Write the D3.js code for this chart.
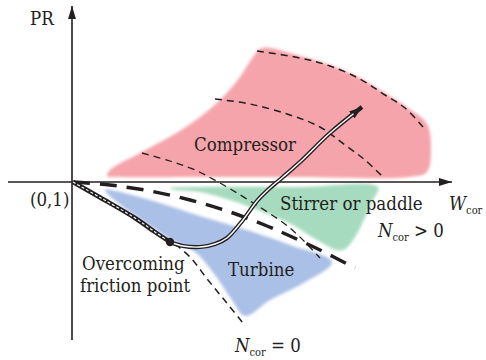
<!DOCTYPE html>
<html><head><meta charset="utf-8">
<script src="https://cdn.jsdelivr.net/npm/d3@7"></script>
<style>
html,body{margin:0;padding:0;background:#fff;}
svg{display:block;}
</style></head>
<body>
<svg id="chart" width="486" height="360"></svg>
<script>
// ---- Data (schematic units: corrected mass flow W, pressure ratio PR offset from (0,1)) ----
const compressorRegion = [[17.5,3],[19,6],[34,14.5],[50.5,23.5],[64,32.5],[75.5,42.5],[84,52.5],[90.5,62.5],[95,67],[114,63],[129,58.5],[144,52],[156.5,44.5],[168,37],[177.5,29],[179.5,16],[177.5,5],[169,2.5],[114,2.5],[64,2.5],[24,2.5]];
const stirrerRegion = [[49,-3],[64,-2.5],[114,-2.5],[153,-2.5],[150.5,-9],[135.5,-34],[122.5,-29],[110.5,-21.5],[94,-14.5],[80.5,-9.5],[64,-5],[51.5,-4]];
const turbineRegion = [[16.5,-4],[39,-9],[64,-17],[89,-24.5],[109,-31.5],[130,-40],[114,-51.5],[99,-59],[86.5,-67],[80,-59],[71.5,-46.5],[61.5,-35],[50,-29],[39,-22],[29,-15],[20,-8]];
const speedLine1 = [[92.5,65.5],[114,62],[129,58],[144,51.5],[156.5,43.5],[166.5,37],[175.5,27.5]];
const speedLine2 = [[71.5,41.5],[89,39],[109,33.5],[124,27.5],[136.5,18.5],[146.5,11],[155,3]];
const speedLine3 = [[35,14.5],[49,10.5],[61.5,6],[74,-0.5],[89,-9.5],[109,-23],[124,-38]];
const boundaryLine = [[0.5,0],[19,-1.5],[39,-4.5],[59,-9],[79,-15],[97.5,-22],[109,-27],[124,-34],[141.5,-43]];
const zeroSpeedSolid = [[0.5,0],[14.5,-8],[31.5,-18],[41.5,-25],[49,-30]];
const zeroSpeedDashed = [[51.5,-31],[59,-37.5],[68,-49],[77,-60],[85.5,-70.5]];
const trajectory = [[49,-30],[55.5,-32],[64,-32.5],[71.5,-31],[77.5,-28],[85.5,-19],[92.5,-9.5],[99,-3],[105.5,2.5],[114,10],[129,24.5],[145,37.5]];
const frictionPoint = [49,-30];
const labels = [
  {t:"PR", p:[-21,78.5]},
  {t:"(0,1)", p:[-21,-12]},
  {t:"Compressor", p:[61,15.5]},
  {t:"Stirrer or paddle", p:[104,-14]},
  {t:"Turbine", p:[78,-47]},
  {t:"Overcoming", p:[5,-44]},
  {t:"friction point", p:[4,-55]}
];
const subLabels = [
  {main:"W", sub:"cor", rest:"", p:[188.5,-14]},
  {main:"N", sub:"cor", rest:" > 0", p:[153,-27.5]},
  {main:"N", sub:"cor", rest:" = 0", p:[81.5,-85]}
];
const xDomain = [0,190], yDomain = [-79,87];

// ---- Scales ----
const x = d3.scaleLinear().domain(xDomain).range([72,452]);
const y = d3.scaleLinear().domain(yDomain).range([340,8]);
const svg = d3.select("#chart");
const ink = "#231f20";
const serif = "'DejaVu Serif Condensed', 'DejaVu Serif', serif";

const defs = svg.append("defs");
defs.append("filter").attr("id","soft").attr("x","-10%").attr("y","-10%").attr("width","120%").attr("height","120%")
  .append("feGaussianBlur").attr("stdDeviation",1.6);
function marker(id,len,wid){
  defs.append("marker").attr("id",id).attr("viewBox",`0 ${-wid/2} ${len} ${wid}`)
    .attr("refX",len).attr("refY",0).attr("markerWidth",len).attr("markerHeight",wid)
    .attr("markerUnits","userSpaceOnUse").attr("orient","auto")
    .append("path").attr("d",`M0,${-wid/2}L${len},0L0,${wid/2}Z`).attr("fill",ink);
}
marker("axArrow",13,8);
marker("trArrow",13,9);

const area = d3.line().x(d=>x(d[0])).y(d=>y(d[1])).curve(d3.curveCatmullRomClosed.alpha(0.5));
const line = d3.line().x(d=>x(d[0])).y(d=>y(d[1])).curve(d3.curveCatmullRom.alpha(0.5));

// Regions
svg.append("path").attr("d",area(compressorRegion)).attr("fill","#f5a4ab").attr("filter","url(#soft)");
svg.append("path").attr("d",area(stirrerRegion)).attr("fill","#a7dbbf").attr("filter","url(#soft)");
svg.append("path").attr("d",area(turbineRegion)).attr("fill","#aac0e6").attr("filter","url(#soft)");

// Axes
svg.append("line").attr("x1",x(-32)).attr("x2",x(190)).attr("y1",y(0)).attr("y2",y(0))
  .attr("stroke",ink).attr("stroke-width",1.6).attr("marker-end","url(#axArrow)");
svg.append("line").attr("x1",x(0)).attr("x2",x(0)).attr("y1",y(-79)).attr("y2",y(88))
  .attr("stroke",ink).attr("stroke-width",1.6).attr("marker-end","url(#axArrow)");

// Speed lines
[speedLine1,speedLine2].forEach(s=>{
  svg.append("path").attr("d",line(s)).attr("fill","none").attr("stroke",ink)
    .attr("stroke-width",1.5).attr("stroke-dasharray","7,5");
});
svg.append("path").attr("d",line(speedLine3)).attr("fill","none").attr("stroke",ink)
  .attr("stroke-width",1.3).attr("stroke-dasharray","7,5");
svg.append("path").attr("d",line(boundaryLine)).attr("fill","none").attr("stroke",ink)
  .attr("stroke-width",3.5).attr("stroke-dasharray","17,10");
svg.append("path").attr("d",line(zeroSpeedDashed)).attr("fill","none").attr("stroke",ink)
  .attr("stroke-width",1.5).attr("stroke-dasharray","7,5");

// Zero-speed solid segment (double line)
svg.append("path").attr("d",line(zeroSpeedSolid)).attr("fill","none").attr("stroke",ink).attr("stroke-width",4.5);
svg.append("path").attr("d",line(zeroSpeedSolid)).attr("fill","none").attr("stroke","#fff")
  .attr("stroke-width",1.1).attr("stroke-dasharray","3,2");

// Trajectory double line with arrow
svg.append("path").attr("d",line(trajectory)).attr("fill","none").attr("stroke",ink)
  .attr("stroke-width",4.2).attr("marker-end","url(#trArrow)");
const inner = svg.append("path").attr("d",line(trajectory)).attr("fill","none").attr("stroke","#fff")
  .attr("stroke-width",1.4).node();
const L = inner.getTotalLength();
inner.setAttribute("stroke-dasharray", `${L-11},1000`);

// Friction point
svg.append("circle").attr("cx",x(frictionPoint[0])).attr("cy",y(frictionPoint[1])).attr("r",4.2).attr("fill",ink);

// Labels
const g = svg.append("g").attr("font-family",serif).attr("fill",ink);
labels.forEach(l=>{
  g.append("text").attr("x",x(l.p[0])).attr("y",y(l.p[1])).attr("font-size",18.5)
    .style("font-family",serif).text(l.t);
});
subLabels.forEach(l=>{
  const t = g.append("text").attr("x",x(l.p[0])).attr("y",y(l.p[1])).attr("font-size",18.5).style("font-family",serif);
  t.append("tspan").attr("font-style","italic").text(l.main);
  t.append("tspan").attr("font-size",11).attr("dy",4).text(l.sub);
  if(l.rest) t.append("tspan").attr("dy",-4).text(l.rest);
});
</script>
</body></html>
